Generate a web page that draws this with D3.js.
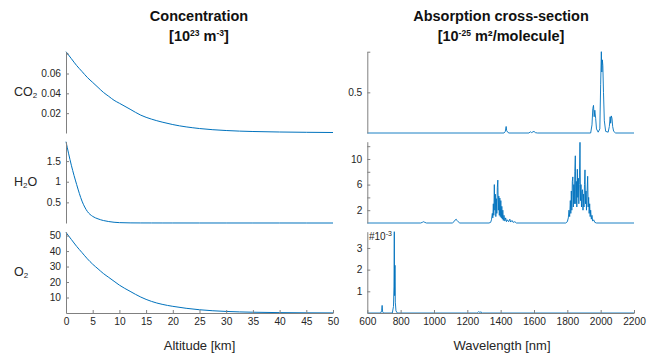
<!DOCTYPE html>
<html>
<head>
<meta charset="utf-8">
<script src="https://cdn.jsdelivr.net/npm/d3@7"></script>
<style>
  body { margin: 0; background: #fff; }
  text { font-family: "Liberation Sans", Arial, sans-serif; }
</style>
</head>
<body>
<svg id="fig" width="660" height="358"></svg>
<script>
// ---- concentration profiles [1e23 m^-3] vs altitude [km]
const altKm = [0, 1, 2, 3, 4, 5, 6, 7, 8, 9, 10, 12, 14, 16, 18, 20, 25, 30, 35, 40, 45, 50];
const co2Conc = [0.082, 0.075, 0.068, 0.062, 0.056, 0.051, 0.046, 0.041, 0.037, 0.033, 0.030, 0.024, 0.018, 0.014, 0.011, 0.0085, 0.0045, 0.0025, 0.0015, 0.0010, 0.0007, 0.0005];
const h2oConc = [1.97, 1.40, 0.93, 0.53, 0.28, 0.16, 0.10, 0.06, 0.035, 0.018, 0.009, 0.003, 0.0015, 0.001, 0.0007, 0.0005, 0.0003, 0.0002, 0.0001, 0.0001, 0, 0];
const o2Conc = [52, 47.5, 43, 39, 35, 31.5, 28.5, 25.5, 23, 20.5, 18, 14, 10.3, 7.5, 5.6, 4.3, 2.1, 1.0, 0.5, 0.25, 0.12, 0.06];

// ---- absorption cross-sections [1e-25 m^2/molecule] vs wavelength [nm]
const co2Wl = [600, 1420, 1428, 1433, 1436, 1442, 1450, 1570, 1578, 1585, 1600, 1608, 1620,
  1940, 1948, 1953, 1957, 1961, 1965, 1970, 1975, 1985, 1995, 2000, 2004, 2007, 2010, 2013, 2017, 2022, 2030,
  2045, 2052, 2057, 2060, 2064, 2068, 2072, 2078, 2090, 2200];
const co2Xs = [0, 0, 0.02, 0.08, 0.03, 0.01, 0, 0, 0.015, 0.005, 0.02, 0.005, 0,
  0, 0.1, 0.3, 0.34, 0.2, 0.28, 0.18, 0.05, 0.01, 0.05, 0.6, 1.0, 0.75, 0.9, 0.83, 0.5, 0.15, 0.02,
  0.01, 0.08, 0.2, 0.12, 0.21, 0.18, 0.08, 0.02, 0, 0];

const h2oWl = [600, 920, 930, 937, 945, 955, 1110, 1120, 1128, 1133, 1138, 1145, 1155, 1330,
  1340, 1345, 1350, 1353, 1356, 1359, 1362, 1365, 1368, 1371, 1374, 1377, 1380, 1383, 1386, 1389, 1392, 1395,
  1398, 1401, 1404, 1407, 1410, 1413, 1416, 1420, 1425, 1430, 1435, 1440, 1448, 1455, 1460, 1468, 1475, 1485, 1495,
  1790, 1800, 1806, 1810, 1814, 1818, 1821, 1824, 1827, 1830, 1833, 1836, 1839, 1842, 1845, 1848, 1851, 1854,
  1857, 1860, 1863, 1866, 1869, 1872, 1876, 1879, 1882, 1885, 1888, 1891, 1894, 1897, 1900, 1903, 1906, 1909,
  1912, 1915, 1918, 1922, 1925, 1928, 1931, 1934, 1937, 1940, 1944, 1948, 1952, 1958, 1965, 1975, 2200];
const h2oXs = [0, 0, 0.1, 0.2, 0.1, 0, 0, 0.2, 0.5, 0.6, 0.4, 0.2, 0, 0,
  0.1, 0.5, 1.5, 0.8, 3.0, 1.2, 6.0, 2.0, 4.5, 1.0, 3.8, 1.5, 5.5, 6.7, 2.0, 4.2, 1.2, 3.9,
  1.0, 3.5, 0.8, 2.6, 0.6, 2.0, 0.4, 1.2, 0.3, 0.8, 0.2, 0.5, 0.2, 0.6, 0.15, 0.4, 0.1, 0.2, 0,
  0, 0.2, 0.8, 2.0, 1.0, 3.5, 1.5, 5.0, 2.0, 6.5, 7.2, 2.5, 6.0, 3.0, 8.0, 10.5, 3.0, 6.5,
  2.5, 8.4, 4.0, 7.0, 3.0, 6.0, 12.6, 3.5, 6.0, 2.5, 5.0, 5.2, 2.0, 4.5, 2.5, 6.0, 8.3, 3.0,
  5.0, 2.0, 4.5, 7.3, 2.5, 4.0, 1.5, 3.0, 1.0, 2.0, 0.6, 1.2, 0.3, 0.5, 0.1, 0, 0];

// O2 in units of 1e-3
const o2Wl = [600, 680, 686, 689, 692, 698, 750, 757, 760, 762, 764, 766, 768, 772, 780,
  1255, 1262, 1268, 1275, 1282, 1290, 2200];
const o2Xs = [0, 0, 0.1, 0.35, 0.05, 0, 0, 0.3, 1.2, 3.75, 0.8, 2.2, 0.5, 0.1, 0,
  0, 0.02, 0.06, 0.03, 0.05, 0, 0];

const altTicks = d3.range(0, 51, 5);
const wlTicks = d3.range(600, 2201, 200);

const svg = d3.select('#fig');
svg.append('rect').attr('width', 660).attr('height', 358).attr('fill', '#fff');

const blue = '#0072BD';
const axisGrey = '#808080';
const labelCol = '#262626';

const panelTop = [51.7, 141.7, 231.7];
const panelH = 81.3;
const leftX = [66, 333];
const rightX = [367.3, 634];

function drawPanel(opt) {
  const g = svg.append('g').attr('transform', `translate(0,${opt.top})`);
  const x = d3.scaleLinear().domain(opt.xDomain).range(opt.xRange);
  const y = d3.scaleLinear().domain([0, opt.yMax]).range([panelH, 0]);

  const line = d3.line()
    .x((d) => x(d[0]))
    .y((d) => y(d[1]))
    .curve(opt.smooth ? d3.curveMonotoneX : d3.curveLinear);

  g.append('path')
    .datum(d3.zip(opt.xs, opt.ys))
    .attr('fill', 'none')
    .attr('stroke', blue)
    .attr('stroke-width', opt.smooth ? 1 : 0.9)
    .attr('stroke-linejoin', 'round')
    .attr('d', line);

  const yAxis = d3.axisLeft(y)
    .tickValues(opt.yTicks)
    .tickSize(-3)
    .tickSizeOuter(0)
    .tickPadding(5)
    .tickFormat((d) => (opt.yLabels.includes(d) ? String(d) : ''));

  const ya = g.append('g').attr('transform', `translate(${opt.xRange[0]},0)`).call(yAxis);
  styleAxis(ya);

  if (opt.xAxis) {
    const xAxis = d3.axisBottom(x)
      .tickValues(opt.xTicks)
      .tickSize(-3)
      .tickSizeOuter(0)
      .tickPadding(5)
      .tickFormat(d3.format('d'));
    const xa = g.append('g').attr('transform', `translate(0,${panelH})`).call(xAxis);
    styleAxis(xa);
  }
  return g;
}

function styleAxis(a) {
  a.select('.domain').attr('stroke', axisGrey).attr('stroke-width', 1);
  a.selectAll('.tick line').attr('stroke', axisGrey);
  a.selectAll('.tick text')
    .attr('fill', labelCol)
    .style('font-size', '10.2px')
    .style('font-family', '"Liberation Sans", Arial, sans-serif');
}

// left column: concentrations
drawPanel({ top: panelTop[0], xDomain: [0, 50], xRange: leftX, xs: altKm, ys: co2Conc, yMax: 0.082,
  yTicks: [0.02, 0.04, 0.06, 0.08], yLabels: [0.02, 0.04, 0.06], smooth: true });
drawPanel({ top: panelTop[1], xDomain: [0, 50], xRange: leftX, xs: altKm, ys: h2oConc, yMax: 1.97,
  yTicks: [0.5, 1, 1.5], yLabels: [0.5, 1, 1.5], smooth: true });
drawPanel({ top: panelTop[2], xDomain: [0, 50], xRange: leftX, xs: altKm, ys: o2Conc, yMax: 52.5,
  yTicks: [10, 20, 30, 40, 50], yLabels: [10, 20, 30, 40, 50], smooth: true, xAxis: true, xTicks: altTicks });

// right column: cross-sections
drawPanel({ top: panelTop[0], xDomain: [600, 2200], xRange: rightX, xs: co2Wl, ys: co2Xs, yMax: 1.0,
  yTicks: [0.5, 1], yLabels: [0.5] });
drawPanel({ top: panelTop[1], xDomain: [600, 2200], xRange: rightX, xs: h2oWl, ys: h2oXs, yMax: 12.7,
  yTicks: [2, 4, 6, 8, 10, 12], yLabels: [2, 6, 10] });
const o2Panel = drawPanel({ top: panelTop[2], xDomain: [600, 2200], xRange: rightX, xs: o2Wl, ys: o2Xs, yMax: 3.75,
  yTicks: [1, 2, 3], yLabels: [1, 2, 3], xAxis: true, xTicks: wlTicks });

// exponent marker
const expo = o2Panel.append('text').attr('x', 369).attr('y', 8.5)
  .attr('fill', labelCol).style('font-size', '10px');
expo.append('tspan').text('#10');
expo.append('tspan').attr('dy', -4).style('font-size', '7px').text('-3');

// gas labels with subscripts
const gasLabel = [['CO', '2'], ['H', '2', 'O'], ['O', '2']];
gasLabel.forEach((parts, i) => {
  const t = svg.append('text').attr('x', 14).attr('y', panelTop[i] + panelH / 2 + 4)
    .attr('fill', labelCol).style('font-size', '12.5px');
  t.append('tspan').text(parts[0]);
  t.append('tspan').attr('dy', 1.5).style('font-size', '8px').text(parts[1]);
  if (parts[2]) t.append('tspan').attr('dy', -1.5).text(parts[2]);
});

// column titles
function title(cx, line1, line2parts) {
  svg.append('text').attr('x', cx).attr('y', 20.5).attr('text-anchor', 'middle')
    .attr('fill', '#111').style('font-size', '14.5px').style('font-weight', 'bold').text(line1);
  const t = svg.append('text').attr('x', cx).attr('y', 41).attr('text-anchor', 'middle')
    .attr('fill', '#111').style('font-size', '14.5px').style('font-weight', 'bold');
  line2parts.forEach((p) => {
    const s = t.append('tspan').text(p[0]);
    if (p[1] === 'sup') s.attr('dy', -5).style('font-size', '8.5px');
    if (p[1] === 'base') s.attr('dy', 5);
  });
}
title(199, 'Concentration', [['[10'], ['23', 'sup'], [' m', 'base'], ['-3', 'sup'], [']', 'base']]);
title(501, 'Absorption cross-section', [['[10'], ['-25', 'sup'], [' m\u00b2/molecule]', 'base']]);

// axis titles
svg.append('text').attr('x', 199.5).attr('y', 350).attr('text-anchor', 'middle')
  .attr('fill', labelCol).style('font-size', '13px').text('Altitude [km]');
svg.append('text').attr('x', 502).attr('y', 350).attr('text-anchor', 'middle')
  .attr('fill', labelCol).style('font-size', '13px').text('Wavelength [nm]');
</script>
</body>
</html>
